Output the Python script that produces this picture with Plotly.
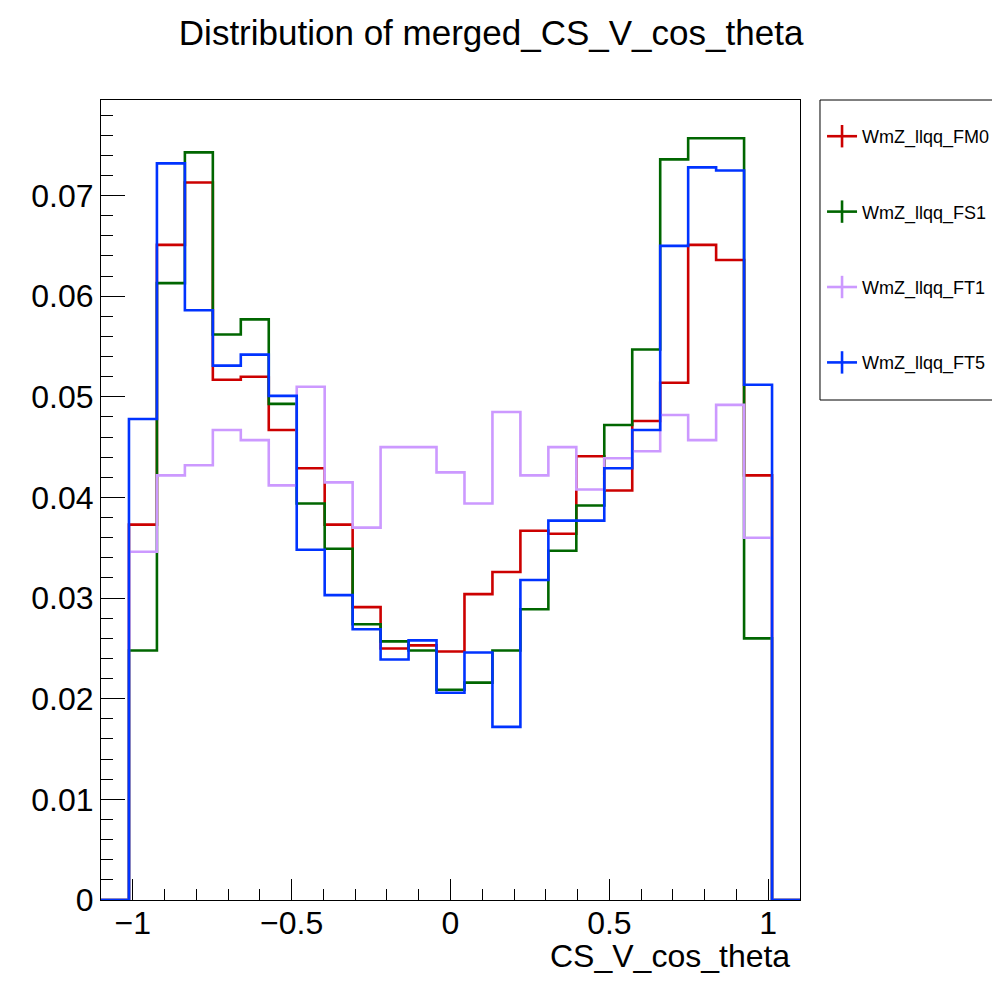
import numpy as np
import plotly.graph_objects as go

# 25 bins from -1.1 to 1.1 (outer bins empty)
x_min, x_max, n_bins = -1.1, 1.1, 25

series_names = ["WmZ_llqq_FM0", "WmZ_llqq_FS1", "WmZ_llqq_FT1", "WmZ_llqq_FT5"]
series_colors = ["#cc0000", "#006600", "#cc99ff", "#0033ff"]

fm0 = [0.0, 0.0373, 0.0651, 0.0713, 0.0517, 0.0520, 0.0467, 0.0429, 0.0373, 0.0291,
       0.0250, 0.0253, 0.0247, 0.0304, 0.0326, 0.0367, 0.0364, 0.0441, 0.0407, 0.0476,
       0.0514, 0.0651, 0.0636, 0.0422, 0.0]
fs1 = [0.0, 0.0248, 0.0613, 0.0743, 0.0562, 0.0577, 0.0493, 0.0394, 0.0349, 0.0274,
       0.0257, 0.0248, 0.0209, 0.0216, 0.0248, 0.0289, 0.0347, 0.0392, 0.0472, 0.0547,
       0.0736, 0.0757, 0.0757, 0.0260, 0.0]
ft1 = [0.0, 0.0346, 0.0422, 0.0432, 0.0467, 0.0457, 0.0412, 0.0510, 0.0415, 0.0370,
       0.0450, 0.0450, 0.0425, 0.0394, 0.0485, 0.0422, 0.0450, 0.0408, 0.0439, 0.0446,
       0.0482, 0.0457, 0.0492, 0.0360, 0.0]
ft5 = [0.0, 0.0478, 0.0732, 0.0586, 0.0531, 0.0542, 0.0501, 0.0348, 0.0303, 0.0269,
       0.0239, 0.0258, 0.0206, 0.0246, 0.0172, 0.0318, 0.0377, 0.0377, 0.0429, 0.0467,
       0.0650, 0.0728, 0.0725, 0.0512, 0.0]

series_values = [fm0, fs1, ft1, ft5]

edges = np.linspace(x_min, x_max, n_bins + 1)
FONT = "Liberation Sans, Arial, Helvetica, sans-serif"

fig = go.Figure()
for name, color, vals in zip(series_names, series_colors, series_values):
    xs = list(edges)
    ys = list(vals) + [vals[-1]]
    fig.add_trace(go.Scatter(x=xs, y=ys, mode="lines", line=dict(color=color, width=2.6, shape="hv"),
                             showlegend=False, hoverinfo="skip"))

for i, (name, color) in enumerate(zip(series_names, series_colors)):
    fig.add_trace(go.Scatter(x=[None], y=[None], mode="lines+markers", name=name,
                             legendgroup=f"g{i}",
                             line=dict(color=color, width=2.6),
                             marker=dict(symbol="line-ns", size=16,
                                         line=dict(color=color, width=2.6), color=color)))

fig.update_layout(
    width=992, height=992,
    margin=dict(l=93, r=200, t=92, b=100, autoexpand=False),
    paper_bgcolor="white", plot_bgcolor="white",
    font=dict(family=FONT, color="black"),
    title=dict(text="Distribution of merged_CS_V_cos_theta", x=0.487, xanchor="center",
               y=0.9748, yanchor="middle", font=dict(size=35, family=FONT)),
    xaxis=dict(range=[x_min, x_max], showgrid=False, zeroline=False,
               showline=True, mirror=True, linecolor="black", linewidth=1,
               ticks="inside", ticklen=21, tickcolor="black", tickwidth=1,
               dtick=0.5, tick0=0, tickfont=dict(size=32, family=FONT),
               ticklabelstandoff=-5,
               minor=dict(ticks="inside", ticklen=11, dtick=0.1, tick0=0, tickcolor="black", showgrid=False)),
    yaxis=dict(range=[0, 0.0795], showgrid=False, zeroline=False,
               showline=True, mirror=True, linecolor="black", linewidth=1,
               ticks="inside", ticklen=24, tickcolor="black", tickwidth=1,
               dtick=0.01, tick0=0, tickfont=dict(size=32, family=FONT),
               minor=dict(ticks="inside", ticklen=12, dtick=0.002, tick0=0, tickcolor="black", showgrid=False)),
    legend=dict(xref="container", yref="container", x=0.8206, xanchor="left", y=0.8891, yanchor="top",
                borderwidth=0, bgcolor="rgba(0,0,0,0)",
                font=dict(size=18, family=FONT), tracegroupgap=49),
    shapes=[dict(type="rect", xref="paper", yref="paper",
                 x0=1.0286, x1=1.2847, y0=0.625, y1=1.0,
                 line=dict(color="black", width=1), fillcolor="white", layer="below")],
    annotations=[dict(text="CS_V_cos_theta", xref="paper", yref="paper",
                      x=0.9886, xanchor="right", y=-0.0700, yanchor="middle",
                      showarrow=False, font=dict(size=32, family=FONT))],
)

fig.write_html("out.html")
